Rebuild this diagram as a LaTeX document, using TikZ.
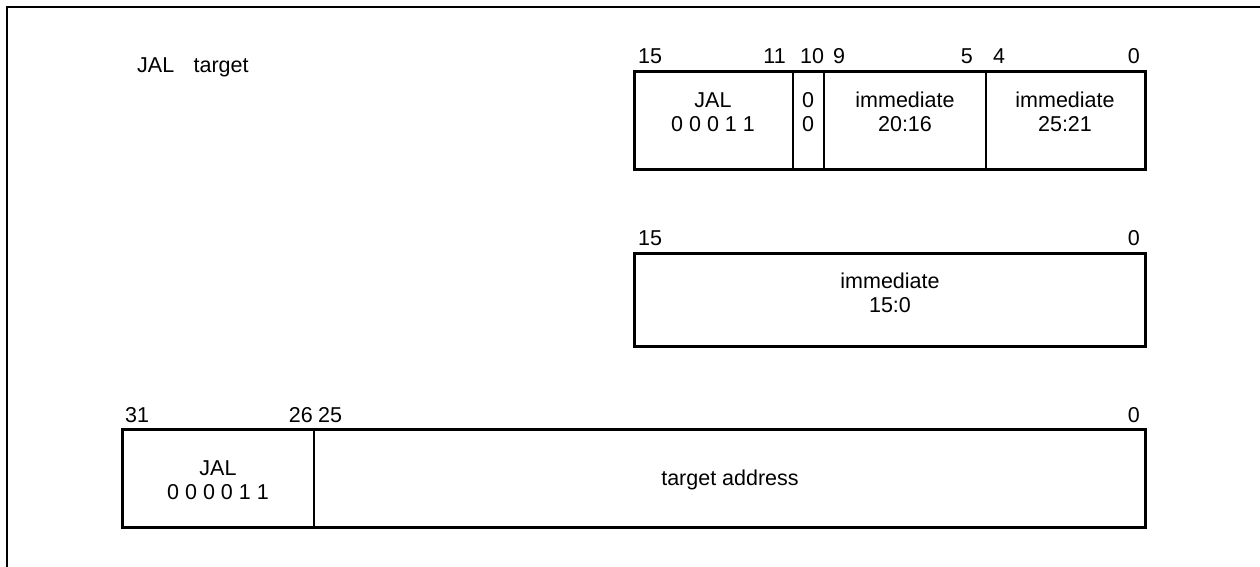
\documentclass[tikz,border=0pt]{standalone}
\usepackage{fontspec}
\setmainfont{Liberation Sans}
\begin{document}
\begin{tikzpicture}[x=1pt,y=-1pt,
  every node/.style={font=\fontsize{21.5}{24}\selectfont, inner sep=0pt},
  outer/.style={line width=3pt},
  divider/.style={line width=1.2pt},
  field/.style={align=center},
  bitl/.style={anchor=base west},
  bitr/.style={anchor=base east}]
\useasboundingbox (0,0) rectangle (1260,567);
% frame
\draw[line width=2pt] (7,567) -- (7,7) -- (1260,7);
\node[anchor=base west] (title) at (137,73) {JAL\hspace{0.9em}target};
% box 1
\coordinate (b1tl) at (634,72);
\coordinate (b1br) at (1145,169);
\draw[outer] (b1tl) rectangle (b1br);
\draw[divider] (793,72) -- (793,169);
\draw[divider] (824,72) -- (824,169);
\draw[divider] (986,72) -- (986,169);
\node[bitl] (l15a) at (638,64) {15};
\node[bitr] (l11) at (786,64) {11};
\node[bitl] (l10) at (800,64) {10};
\node[bitl] (l9) at (833,64) {9};
\node[bitr] (l5) at (973,64) {5};
\node[bitl] (l4) at (993,64) {4};
\node[bitr] (l0a) at (1140,64) {0};
\node[field] (f1) at (713,112) {JAL\\0 0 0 1 1};
\node[field] (f2) at (808,112) {0\\0};
\node[field] (f3) at (905,112) {immediate\\20:16};
\node[field] (f4) at (1065,112) {immediate\\25:21};
% box 2
\draw[outer] (634,253) rectangle (1145,346);
\node[bitl] (l15b) at (638,245) {15};
\node[bitr] (l0b) at (1140,245) {0};
\node[field] (g1) at (890,293) {immediate\\15:0};
% box 3
\draw[outer] (122,429) rectangle (1145,527);
\draw[divider] (314,429) -- (314,527);
\node[bitl] (l31) at (125,422) {31};
\node[bitr] (l26) at (313,422) {26};
\node[bitl] (l25) at (318,422) {25};
\node[bitr] (l0c) at (1140,422) {0};
\node[field] (h1) at (218,480) {JAL\\0 0 0 0 1 1};
\node[field] (h2) at (730,480) {target address};
\end{tikzpicture}
\end{document}
